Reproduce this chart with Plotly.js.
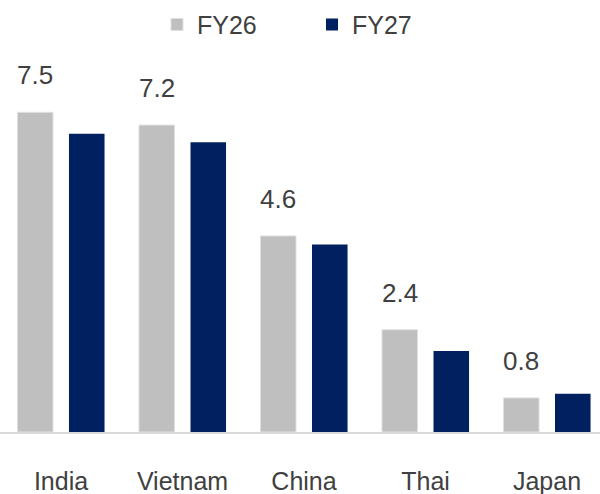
<!DOCTYPE html>
<html lang="en">
<head>
    <meta charset="UTF-8">
    <title>FY26 vs FY27</title>
    <script src="https://cdn.plot.ly/plotly-3.0.1.min.js"></script>
    <style>
        body { margin: 0; background: #ffffff; }
        #chart { width: 600px; height: 494px; }
    </style>
</head>
<body>
    <div id="chart"></div>
    <script>
        const countries = ['India', 'Vietnam', 'China', 'Thai', 'Japan'];
        const fy26 = [7.5, 7.2, 4.6, 2.4, 0.8];
        const fy27 = [7.0, 6.8, 4.4, 1.9, 0.9];

        const textColor = '#404040';
        const font = { family: 'Liberation Sans, Arial, sans-serif', size: 25, color: textColor };

        const traces = [
            {
                x: countries, y: fy26, type: 'bar', name: 'FY26',
                marker: { color: '#bfbfbf', line: { color: '#e0e0e0', width: 1 } },
                hoverinfo: 'skip'
            },
            {
                x: countries, y: fy27, type: 'bar', name: 'FY27',
                marker: { color: '#002060' },
                hoverinfo: 'skip'
            }
        ];

        // value labels only above the FY26 bars
        const labels = countries.map((c, i) => ({
            x: c, y: fy26[i], xref: 'x', yref: 'y',
            text: fy26[i].toFixed(1), showarrow: false,
            xshift: -26, yshift: 37,
            font: { family: font.family, size: 26, color: textColor }
        }));

        const layout = {
            width: 600, height: 494,
            margin: { l: 0, r: 0, t: 91, b: 62 },
            paper_bgcolor: '#ffffff', plot_bgcolor: '#ffffff',
            font: font,
            barmode: 'group',
            bargap: 0.152,
            bargroupgap: 0.31,
            showlegend: true,
            legend: {
                orientation: 'h', x: 0.52, xanchor: 'center',
                yref: 'container', y: 0.95, yanchor: 'middle',
                font: font, entrywidth: 110, itemwidth: 30
            },
            xaxis: {
                range: [-0.502, 4.436],
                showline: true, linecolor: '#d9d9d9', linewidth: 2,
                ticks: '', showgrid: false, zeroline: false,
                ticklabelstandoff: 26,
                tickfont: font
            },
            yaxis: {
                range: [0, 8], visible: false, showgrid: false, zeroline: false
            },
            annotations: labels
        };

        Plotly.newPlot('chart', traces, layout, { displayModeBar: false, staticPlot: true });
    </script>
</body>
</html>
